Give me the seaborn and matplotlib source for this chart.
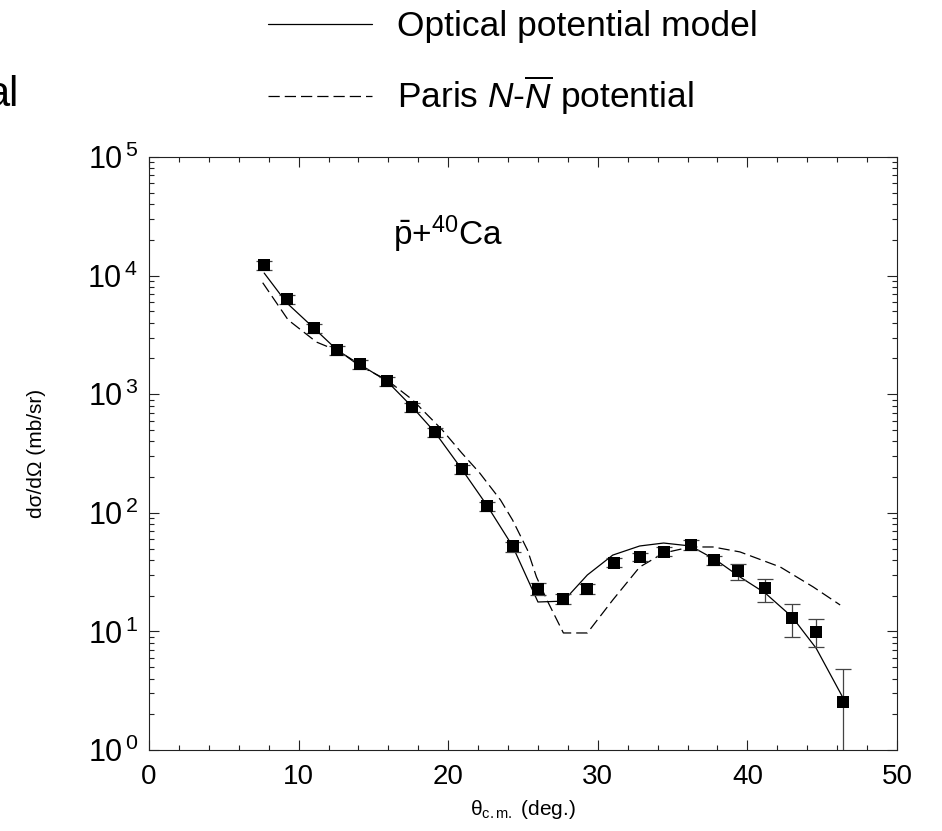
import numpy as np
import pandas as pd
import matplotlib
matplotlib.use("Agg")
import matplotlib.pyplot as plt
from matplotlib.ticker import LogLocator, MultipleLocator, FixedLocator, NullFormatter, FuncFormatter
import seaborn as sns

# ---------------- data ----------------
data_theta = [7.7, 9.2, 11.0, 12.6, 14.1, 15.9, 17.6, 19.1, 20.9, 22.6, 24.3, 26.0,
              27.7, 29.3, 31.1, 32.8, 34.4, 36.2, 37.8, 39.4, 41.2, 43.0, 44.6, 46.4]
data_xs = [12300, 6300, 3600, 2360, 1790, 1290, 780, 480, 234, 114, 52, 22.8,
           18.8, 22.8, 38, 42.5, 47, 54, 40, 32, 23, 13, 9.9, 2.55]
err_lo = [1100, 570, 320, 210, 160, 115, 70, 43, 21, 10, 5, 2.7,
          1.8, 2.2, 3.2, 3.6, 4, 5, 3.4, 5, 5.3, 4, 2.5, 2.0]
err_hi = [1100, 570, 320, 210, 160, 115, 70, 43, 21, 10, 5, 2.7,
          1.8, 2.2, 3.2, 3.6, 4, 5, 3.4, 5, 4.7, 4, 2.8, 2.25]

optical_theta = [7.7, 9.2, 11.0, 12.6, 14.1, 15.9, 17.6, 19.1, 20.9, 22.6, 24.3, 26.0,
                 27.7, 29.3, 31.0, 32.8, 34.4, 36.2, 37.9, 39.5, 41.2, 43.0, 44.6, 46.4]
optical_xs = [10500, 5900, 3630, 2340, 1780, 1290, 780, 480, 234, 115, 52.5, 17.7,
              18.0, 29.9, 44, 52.5, 55.6, 52.5, 40, 28.8, 21, 13.2, 7.2, 2.74]

paris_theta = [7.6, 9.3, 11.2, 12.8, 14.0, 15.9, 17.6, 19.6, 20.9, 22.1, 23.5, 24.3, 25.3,
               25.9, 26.6, 27.7, 29.3, 31.0, 32.8, 34.4, 36.2, 37.7, 39.5, 42.2, 44.4, 46.2]
paris_xs = [8710, 4230, 2750, 2270, 1760, 1320, 900, 500, 320, 217, 128, 87, 48.5,
            28.8, 18.4, 9.7, 9.7, 18.4, 34.9, 45.8, 51.5, 51.5, 46.8, 34.9, 23.7, 16.7]

legend_labels = ["Optical potential model", r"Paris $\mathit{N}$-$\overline{\mathit{N}}$ potential"]
x_ticks = [0, 10, 20, 30, 40, 50]

# ---------------- style ----------------
sns.set_theme(style="ticks")
plt.rcParams["font.family"] = ["Liberation Sans", "DejaVu Sans"]
plt.rcParams["mathtext.fontset"] = "custom"
plt.rcParams["mathtext.rm"] = "Liberation Sans"
plt.rcParams["mathtext.it"] = "Liberation Sans:italic"
plt.rcParams["mathtext.bf"] = "Liberation Sans:bold"
plt.rcParams["axes.linewidth"] = 0.8
for key in ["text.color", "axes.labelcolor", "xtick.color", "ytick.color",
            "xtick.labelcolor", "ytick.labelcolor", "axes.edgecolor"]:
    plt.rcParams[key] = "black"

fig = plt.figure(figsize=(9.42, 8.31), dpi=100)
ax = fig.add_axes([149 / 942, 1 - 750 / 831, 748 / 942, 593 / 831])

df_opt = pd.DataFrame({"theta": optical_theta, "xs": optical_xs})
df_par = pd.DataFrame({"theta": paris_theta, "xs": paris_xs})
df_dat = pd.DataFrame({"theta": data_theta, "xs": data_xs})

sns.lineplot(data=df_opt, x="theta", y="xs", ax=ax, color="black", lw=0.9, label=legend_labels[0])
sns.lineplot(data=df_par, x="theta", y="xs", ax=ax, color="black", lw=0.9,
             dashes=False, label=legend_labels[1])
paris_line = ax.lines[-1]
paris_line.set_dashes((9, 4))

ax.errorbar(df_dat["theta"], df_dat["xs"], yerr=[err_lo, err_hi], fmt="none",
            ecolor="#444444", elinewidth=0.9, capsize=6, capthick=0.9, zorder=3)
sns.scatterplot(data=df_dat, x="theta", y="xs", ax=ax, marker="s", s=70, color="black",
                edgecolor="black", linewidth=0, zorder=4)

ax.set_yscale("log")
ax.set_xlim(0, 50)
ax.set_ylim(1, 1e5)

ax.xaxis.set_major_locator(FixedLocator(x_ticks))
ax.xaxis.set_minor_locator(MultipleLocator(2))
ax.yaxis.set_major_locator(LogLocator(base=10, numticks=10))
ax.yaxis.set_minor_locator(LogLocator(base=10, subs=np.arange(2, 10), numticks=20))
ax.yaxis.set_minor_formatter(NullFormatter())
ax.yaxis.set_major_formatter(FuncFormatter(lambda v, p: r"$\mathregular{10^{\,%d}}$" % int(round(np.log10(v)))))

ax.tick_params(which="both", direction="in", top=True, right=True, color="#222222", width=0.8)
ax.tick_params(which="major", length=7)
ax.tick_params(which="minor", length=3.6)
ax.tick_params(axis="y", which="major", labelsize=22, pad=8)
ax.tick_params(axis="x", which="major", labelsize=20, pad=10)
for sp in ax.spines.values():
    sp.set_color("#222222")

ax.set_xlabel("θ$_{\\mathrm{c.m.}}$ (deg.)", fontsize=15, labelpad=6)
ax.set_ylabel("dσ/dΩ (mb/sr)", fontsize=15, labelpad=30)

ax.text(0.326, 0.852, r"$\bar{\mathrm{p}}$+$^{40}$Ca", transform=ax.transAxes,
        fontsize=24, ha="left", va="baseline")

handles, labels = ax.get_legend_handles_labels()
ax.legend(handles[:2], labels[:2], loc="upper left", bbox_to_anchor=(268 / 942, 1 - 10 / 831),
          bbox_transform=fig.transFigure, frameon=False, fontsize=25.5, borderpad=0,
          borderaxespad=0, handlelength=2.94, handletextpad=0.71, labelspacing=0.86)

fig.text(19 / 942, 1 - 106 / 831, "al", fontsize=30, ha="right", va="baseline")

fig.savefig("out.png", dpi=100)
